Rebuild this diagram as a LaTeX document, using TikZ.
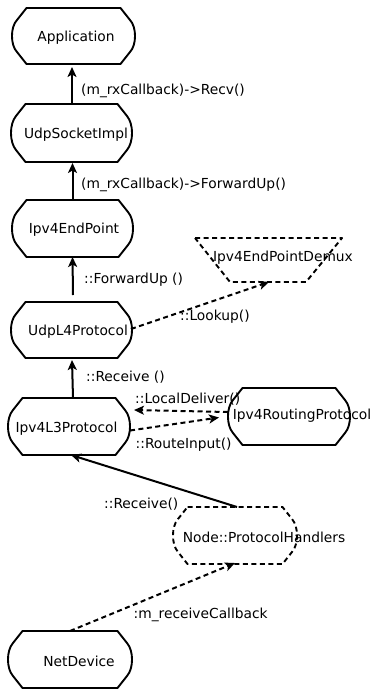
\documentclass[tikz,border=0pt]{standalone}
\usepackage{fontspec}
\setmainfont{DejaVu Sans}
\usetikzlibrary{calc,arrows.meta}
\newcommand\octo[2][]{%
\draw[shp,#1] ($(#2.north west)+(14.5,0)$) -- ($(#2.north east)+(-14.5,0)$) -- ($(#2.north east)+(-5,12)$)
 .. controls ($(#2.east)+(1.7,-9)$) and ($(#2.east)+(1.7,9)$) .. ($(#2.south east)+(-5,-12)$)
 -- ($(#2.south east)+(-14.5,0)$) -- ($(#2.south west)+(14.5,0)$) -- ($(#2.south west)+(5,-12)$)
 .. controls ($(#2.west)+(-1.7,9)$) and ($(#2.west)+(-1.7,-9)$) .. ($(#2.north west)+(5,12)$) -- cycle;}
\begin{document}
\begin{tikzpicture}[x=1pt,y=-1pt,
  box/.style={inner sep=0pt,outer sep=0pt,minimum width=#1,minimum height=57pt},
  box/.default=122pt,
  shp/.style={line width=1.9pt,line join=round},
  txt/.style={font=\fontsize{13.8}{16}\selectfont,inner sep=0pt,anchor=base},
  lab/.style={font=\fontsize{13.8}{16}\selectfont,inner sep=0pt,anchor=base west},
  arr/.style={line width=2pt,-{Stealth[length=10pt,width=9pt,inset=2.5pt]}},
  darr/.style={arr,dash pattern=on 5pt off 3.5pt},
  dsh/.style={dash pattern=on 5pt off 3.5pt}]
\useasboundingbox (0,0) rectangle (373,689);
% boxes
\node[box=123pt,minimum height=56pt] (app) at (73.5,36) {};
\node[box=121pt,minimum height=58pt] (sock) at (71.5,133) {};
\node[box=121pt] (ep) at (72.5,228.5) {};
\node[inner sep=0pt,outer sep=0pt,minimum width=147pt,minimum height=44pt] (demux) at (268.5,260) {};
\node[box=121pt,minimum height=56pt] (udp) at (71.5,330) {};
\node[box=122pt] (l3) at (69,426.5) {};
\node[box=122pt] (rp) at (289,416.5) {};
\node[box=124pt] (ph) at (235,535.5) {};
\node[box=124pt] (nd) at (70,659.5) {};
\octo{app}
\octo{sock}
\octo{ep}
\octo{udp}
\octo{l3}
\octo{rp}
\octo{nd}
\octo[dsh]{ph}
\draw[shp,dsh] (demux.north west) -- (demux.north east) -- ($(demux.south east)+(-36,0)$) -- ($(demux.south west)+(35,0)$) -- cycle;
% texts
\node[txt] (appT) at (76,41) {Application};
\node[txt] (sockT) at (76,138) {UdpSocketImpl};
\node[txt] (epT) at (74,233) {Ipv4EndPoint};
\node[txt] (demuxT) at (283,261) {Ipv4EndPointDemux};
\node[txt] (udpT) at (78,335) {UdpL4Protocol};
\node[txt] (l3T) at (66.5,432) {Ipv4L3Protocol};
\node[txt] (rpT) at (302,419) {Ipv4RoutingProtocol};
\node[txt] (phT) at (264,542) {Node::ProtocolHandlers};
\node[txt] (ndT) at (79,666) {NetDevice};
% connectors
\coordinate (a1) at (72,104);
\coordinate (a1e) at (72,67);
\draw[arr] (a1) -- (a1e);
\coordinate (a2) at (72.5,200);
\coordinate (a2e) at (72.5,163);
\draw[arr] (a2) -- (a2e);
\coordinate (a3) at (73,295);
\coordinate (a3e) at (72.5,257);
\draw[arr] (a3) -- (a3e);
\coordinate (a4) at (73,398);
\coordinate (a4e) at (72,360);
\draw[arr] (a4) -- (a4e);
\coordinate (b1) at (131,329);
\coordinate (b1e) at (269,282);
\draw[darr] (b1) -- (b1e);
\coordinate (b2) at (228,412);
\coordinate (b2e) at (134,410);
\draw[darr] (b2) -- (b2e);
\coordinate (b3) at (130,430.5);
\coordinate (b3e) at (219,417.5);
\draw[darr] (b3) -- (b3e);
\coordinate (c1) at (237,507);
\coordinate (c1e) at (71,455);
\draw[arr] (c1) -- (c1e);
\coordinate (c2) at (70,631);
\coordinate (c2e) at (235,563);
\draw[darr] (c2) -- (c2e);
% labels
\node[lab] (l1) at (81,94) {(m\_rxCallback)->Recv()};
\node[lab] (l2) at (81,188) {(m\_rxCallback)->ForwardUp()};
\node[lab] (l3l) at (84,283) {::ForwardUp ()};
\node[lab] (l4) at (86,381) {::Receive ()};
\node[lab] (l5) at (180,320) {::Lookup()};
\node[lab] (l6) at (135,403) {::LocalDeliver()};
\node[lab] (l7) at (135.5,448) {::RouteInput()};
\node[lab] (l8) at (104,508) {::Receive()};
\node[lab] (l9) at (133.5,618) {:m\_receiveCallback};
\end{tikzpicture}
\end{document}
